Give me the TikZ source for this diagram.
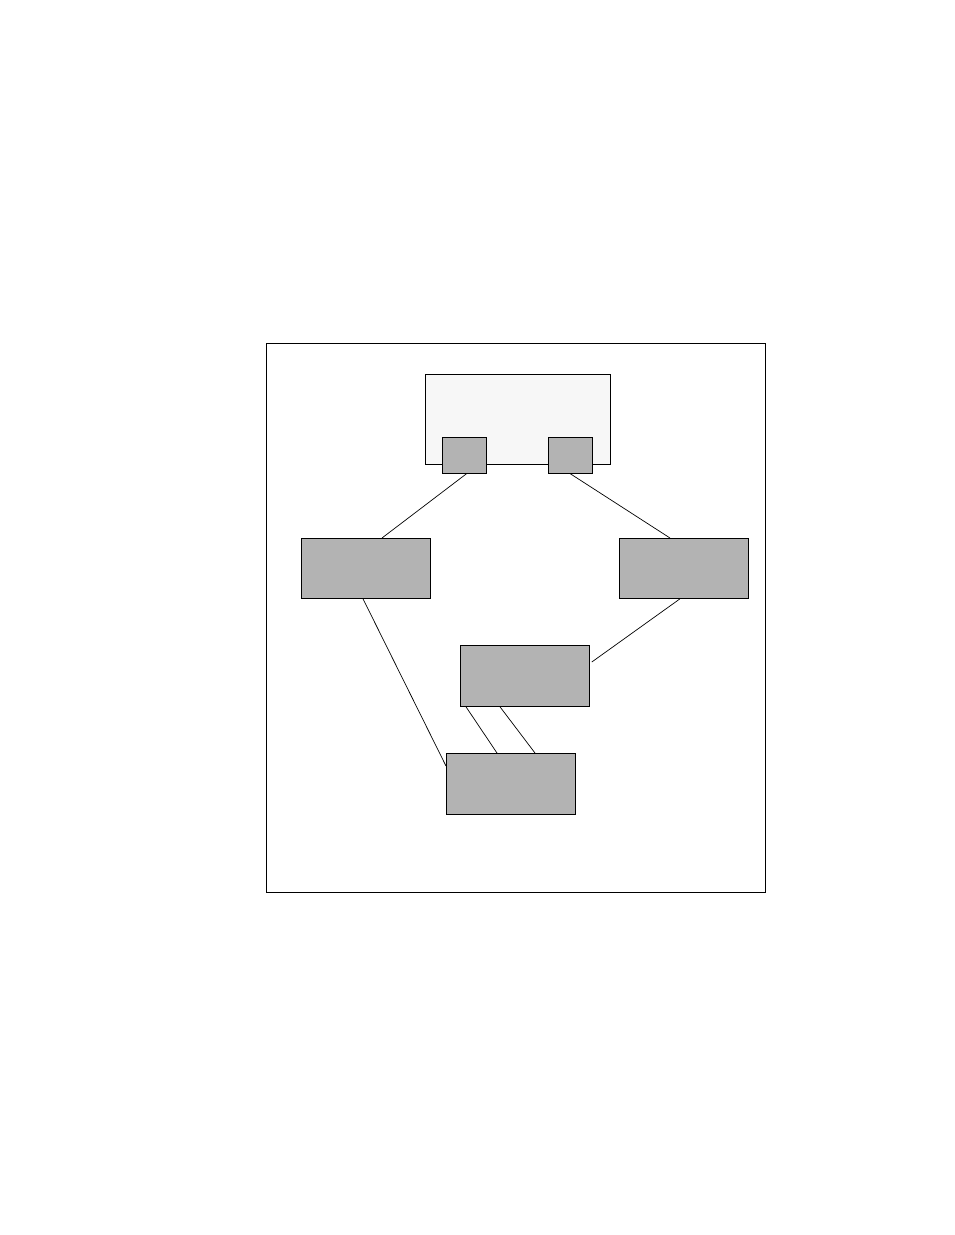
\documentclass[tikz,border=0pt]{standalone}
\usetikzlibrary{calc}
\definecolor{boxgray}{HTML}{B3B3B3}
\definecolor{lightbg}{HTML}{F7F7F7}
\begin{document}
\begin{tikzpicture}[x=1pt,y=-1pt,line width=0.8pt,
  gbox/.style={draw=black,fill=boxgray,inner sep=0pt,anchor=north west,line width=0.8pt},
  wire/.style={draw=black,line width=0.7pt}]
\useasboundingbox (0,0) rectangle (954,1235);
\node[draw=black,inner sep=0pt,anchor=north west,minimum width=499pt,minimum height=549pt] (frame) at (266,343) {};
\node[draw=black,fill=lightbg,inner sep=0pt,anchor=north west,minimum width=185pt,minimum height=90pt] (top) at (425,374) {};
\node[gbox,minimum width=44pt,minimum height=36pt] (s1) at (442,437) {};
\node[gbox,minimum width=44pt,minimum height=36pt] (s2) at (548,437) {};
\node[gbox,minimum width=129pt,minimum height=60pt] (L) at (301,538) {};
\node[gbox,minimum width=129pt,minimum height=60pt] (R) at (619,538) {};
\node[gbox,minimum width=129pt,minimum height=61pt] (M) at (460,645) {};
\node[gbox,minimum width=129pt,minimum height=61pt] (B) at (446,753) {};
\draw[wire] ([xshift=2pt]s1.south) -- ([xshift=81pt]L.north west);
\draw[wire] (s2.south) -- ([xshift=51pt]R.north west);
\draw[wire] ([xshift=61pt]R.south west) -- ([xshift=2pt,yshift=-17pt]M.north east);
\draw[wire] ([xshift=62pt]L.south west) -- ([yshift=-13pt]B.north west);
\draw[wire] ([xshift=6pt]M.south west) -- ([xshift=51pt]B.north west);
\draw[wire] ([xshift=40pt]M.south west) -- ([xshift=89pt]B.north west);
\end{tikzpicture}
\end{document}
